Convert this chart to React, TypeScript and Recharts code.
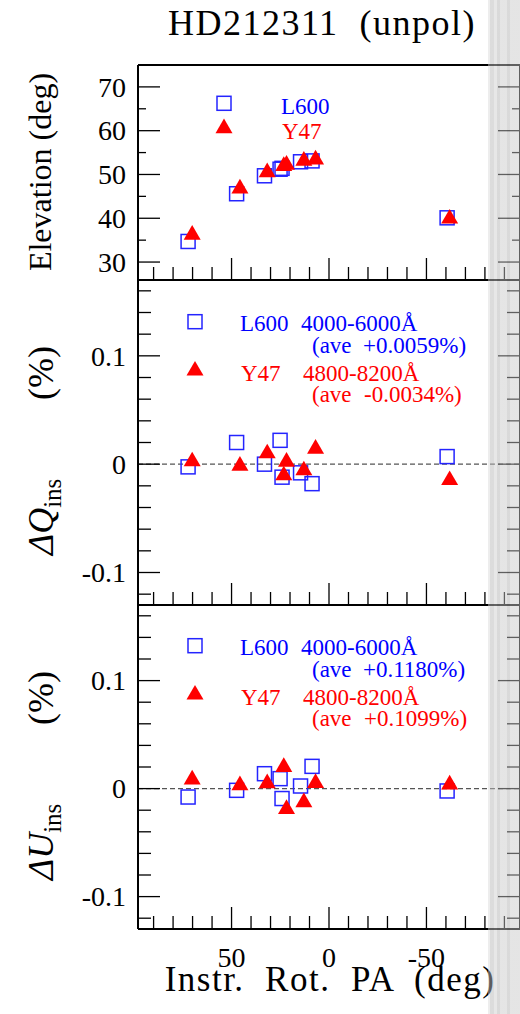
import React from "react";
import { ReferenceLine, Scatter, ScatterChart, XAxis, YAxis } from "recharts";

// HD212311 (unpol): elevation and instrumental dQ / dU against instrument rotator PA.
// Three stacked panels sharing the (reversed) PA axis; ticks point inward on all sides.

const PA_L600 = [72.3, 47.4, 33.1, 25.1, 24.1, 14.6, 8.7, -60.6];
const PA_Y47 = [70.2, 45.7, 31.7, 23.2, 21.8, 12.9, 6.9, -61.9];

const EL_L600 = [34.7, 45.6, 49.7, 51.2, 51.4, 52.9, 53.1, 40.1];
const EL_Y47 = [36.2, 46.8, 50.5, 51.9, 52.2, 53.1, 53.4, 39.9];

const DQ_L600 = [-0.0025, 0.02, 0.0, 0.022, -0.012, -0.008, -0.018, 0.007];
const DQ_Y47 = [0.0025, -0.0015, 0.0099, -0.0104, 0.0021, -0.0058, 0.0141, -0.0148];

const DU_L600 = [-0.0078, -0.0016, 0.0138, 0.0092, -0.0092, 0.0024, 0.0206, -0.0022];
const DU_Y47 = [0.0083, 0.003, 0.0049, 0.02, -0.019, -0.0127, 0.0052, 0.0037];

const X_TICKS = [-90, -80, -70, -60, -50, -40, -30, -20, -10, 0, 10, 20, 30, 40, 50, 60, 70, 80, 90];
const X_MAJOR = [-50, 0, 50];
const EL_TICKS = [30, 35, 40, 45, 50, 55, 60, 65, 70];
const EL_MAJOR = [30, 40, 50, 60, 70];
const D_TICKS = [-0.12, -0.1, -0.08, -0.06, -0.04, -0.02, 0, 0.02, 0.04, 0.06, 0.08, 0.1, 0.12, 0.14, 0.16];
const D_MAJOR = [-0.1, 0, 0.1];

const X_DOMAIN: [number, number] = [-98, 98];
const EL_DOMAIN: [number, number] = [25.9, 75];
const D_DOMAIN: [number, number] = [-0.13, 0.17];

const SERIF = "'Liberation Serif', 'DejaVu Serif', serif";
const BLUE = "#0000ff";
const RED = "#ff0000";

const pts = (xs: number[], ys: number[]) => xs.map((x, i) => ({ x, y: ys[i] }));

function SquareMark({ cx, cy }: any) {
  if (cx == null || cy == null) return null;
  return <rect x={cx - 7} y={cy - 7} width={14} height={14} fill="none" stroke="#2424ff" strokeWidth={1.5} />;
}

function TriMark({ cx, cy }: any) {
  if (cx == null || cy == null) return null;
  const h = 14.7;
  return (
    <polygon
      points={`${cx},${cy - (2 * h) / 3} ${cx - 8.5},${cy + h / 3} ${cx + 8.5},${cy + h / 3}`}
      fill={RED}
    />
  );
}

const isMajor = (majors: number[], v: number) => majors.some((m) => Math.abs(m - v) < 1e-9);
const fmt = (v: number) => (Math.abs(v) < 1e-9 ? "0" : String(Math.round(v * 100) / 100));

type Side = "top" | "bottom" | "left" | "right";

// tickSize/tickMargin are 0, so x/y arrive on the frame line; the mark is drawn inward from there
function makeTick(side: Side, majors: number[], majorLen: number, minorLen: number, label: boolean) {
  return (p: any) => {
    const { x, y } = p;
    const v = p.payload.value;
    const maj = isMajor(majors, v);
    const len = maj ? majorLen : minorLen;
    let x2 = x;
    let y2 = y;
    if (side === "bottom") y2 = y - len;
    if (side === "top") y2 = y + len;
    if (side === "left") x2 = x + len;
    if (side === "right") x2 = x - len;
    return (
      <g>
        <line x1={x} y1={y} x2={x2} y2={y2} stroke="#000" strokeWidth={1.3} />
        {label && maj && side === "left" && (
          <text x={x - 12} y={y} dy="0.35em" textAnchor="end" fontFamily={SERIF} fontSize={28} fill="#000">
            {fmt(v)}
          </text>
        )}
        {label && maj && side === "bottom" && (
          <text x={x} y={y + 38} textAnchor="middle" fontFamily={SERIF} fontSize={28} fill="#000">
            {fmt(v)}
          </text>
        )}
      </g>
    );
  };
}

const FRAME = { stroke: "#000", strokeWidth: 2 };

type PanelProps = {
  top: number;
  height: number;
  mTop: number;
  mBottom: number;
  yDomain: [number, number];
  yTicks: number[];
  yMajor: number[];
  yMinorLen: number;
  l600: { x: number; y: number }[];
  y47: { x: number; y: number }[];
  zero: boolean;
  xLabels: boolean;
};

// axes get a 1px band (a 0px one is not drawn), so the margins are 1px smaller than the frame offsets
function Panel(props: PanelProps) {
  const { top, height, mTop, mBottom, yDomain, yTicks, yMajor, yMinorLen, l600, y47, zero, xLabels } = props;
  const common = { type: "number" as const, allowDataOverflow: true, interval: 0 as const, tickLine: false, tickSize: 0, tickMargin: 0, axisLine: FRAME };
  return (
    <div style={{ position: "absolute", left: 0, top, width: 520, height }}>
      <ScatterChart width={521} height={height} margin={{ top: mTop - 1, right: 0, bottom: mBottom - 1, left: 137 }}>
        <XAxis {...common} xAxisId="b" dataKey="x" orientation="bottom" height={1} domain={X_DOMAIN} reversed ticks={X_TICKS} tick={makeTick("bottom", X_MAJOR, 22, 13, xLabels)} />
        <XAxis {...common} xAxisId="t" orientation="top" height={1} domain={X_DOMAIN} reversed ticks={X_TICKS} tick={makeTick("top", X_MAJOR, 22, 13, false)} />
        <YAxis {...common} yAxisId="l" dataKey="y" orientation="left" width={1} domain={yDomain} ticks={yTicks} tick={makeTick("left", yMajor, 22, yMinorLen, true)} />
        <YAxis {...common} yAxisId="r" orientation="right" width={1} domain={yDomain} ticks={yTicks} tick={makeTick("right", yMajor, 22, yMinorLen, false)} />
        {zero && <ReferenceLine xAxisId="b" yAxisId="l" y={0} stroke="#555" strokeWidth={1.2} strokeDasharray="5 3" />}
        <Scatter xAxisId="b" yAxisId="l" data={l600} shape={SquareMark} isAnimationActive={false} />
        <Scatter xAxisId="b" yAxisId="l" data={y47} shape={TriMark} isAnimationActive={false} />
      </ScatterChart>
    </div>
  );
}

function Sq({ x, y }: { x: number; y: number }) {
  return <rect x={x - 7} y={y - 7} width={14} height={14} fill="none" stroke="#2424ff" strokeWidth={1.5} />;
}
function Tri({ x, y }: { x: number; y: number }) {
  const h = 14.7;
  return <polygon points={`${x},${y - (2 * h) / 3} ${x - 8.5},${y + h / 3} ${x + 8.5},${y + h / 3}`} fill={RED} />;
}

function Legend2({ y0, l600Ave, y47Ave }: { y0: number; l600Ave: string; y47Ave: string }) {
  return (
    <g fontFamily={SERIF} fontSize={23}>
      <Sq x={195} y={y0} />
      <text x={240} y={y0 + 9.5} fill={BLUE}>L600</text>
      <text x={301} y={y0 + 9.5} fill={BLUE}>4000-6000Å</text>
      <text x={312} y={y0 + 31} fill={BLUE}>(ave</text>
      <text x={363} y={y0 + 31} fill={BLUE}>{l600Ave}</text>
      <Tri x={195} y={y0 + 49} />
      <text x={241} y={y0 + 59} fill={RED}>Y47</text>
      <text x={303} y={y0 + 59} fill={RED}>4800-8200Å</text>
      <text x={312} y={y0 + 80.5} fill={RED}>(ave</text>
      <text x={364} y={y0 + 80.5} fill={RED}>{y47Ave}</text>
    </g>
  );
}

function DeltaLabel({ y, letter }: { y: number; letter: string }) {
  // rotated text reads bottom-up; it starts at the bottom end y
  return (
    <text transform={`translate(53,${y}) rotate(-90)`} fontFamily={SERIF} fontSize={36} fill="#000">
      <tspan fontStyle="italic">Δ{letter}</tspan>
      <tspan fontSize={25} dy={8}>ins</tspan>
      <tspan x={155} dy={-8}>(%)</tspan>
    </text>
  );
}

export default function App() {
  return (
    <div style={{ position: "absolute", left: 0, top: 0, width: 520, height: 1014, background: "#fff", overflow: "hidden" }}>
      <Panel top={0} height={300} mTop={65} mBottom={20} yDomain={EL_DOMAIN} yTicks={EL_TICKS} yMajor={EL_MAJOR} yMinorLen={8}
        l600={pts(PA_L600, EL_L600)} y47={pts(PA_Y47, EL_Y47)} zero={false} xLabels={false} />
      <Panel top={270} height={345} mTop={10} mBottom={10} yDomain={D_DOMAIN} yTicks={D_TICKS} yMajor={D_MAJOR} yMinorLen={13}
        l600={pts(PA_L600, DQ_L600)} y47={pts(PA_Y47, DQ_Y47)} zero xLabels={false} />
      <Panel top={595} height={419} mTop={10} mBottom={85} yDomain={D_DOMAIN} yTicks={D_TICKS} yMajor={D_MAJOR} yMinorLen={13}
        l600={pts(PA_L600, DU_L600)} y47={pts(PA_Y47, DU_Y47)} zero xLabels />

      <svg width={520} height={1014} style={{ position: "absolute", left: 0, top: 0, pointerEvents: "none" }}>
        <text x={322} y={35} textAnchor="middle" fontFamily={SERIF} fontSize={36} letterSpacing={1.5} fill="#000" style={{ whiteSpace: "pre" }}>
          HD212311  (unpol)
        </text>
        <text x={330} y={991} textAnchor="middle" fontFamily={SERIF} fontSize={35} letterSpacing={1.5} fill="#000" style={{ whiteSpace: "pre" }}>
          Instr.  Rot.  PA  (deg)
        </text>
        <text transform="translate(51,172) rotate(-90)" textAnchor="middle" fontFamily={SERIF} fontSize={32} fill="#000">
          Elevation (deg)
        </text>
        <DeltaLabel y={555} letter="Q" />
        <DeltaLabel y={880} letter="U" />

        <g fontFamily={SERIF} fontSize={23}>
          <Sq x={224} y={103.3} />
          <Tri x={224} y={128.3} />
          <text x={281} y={114} fill={BLUE}>L600</text>
          <text x={282} y={139} fill={RED}>Y47</text>
        </g>
        <Legend2 y0={321.7} l600Ave="+0.0059%)" y47Ave="-0.0034%)" />
        <Legend2 y0={645.7} l600Ave="+0.1180%)" y47Ave="+0.1099%)" />
      </svg>

      <div
        style={{
          position: "absolute",
          left: 488,
          top: 0,
          width: 32,
          height: 1014,
          background:
            "linear-gradient(90deg, rgba(215,215,215,0.45) 0px, rgba(215,215,215,0.45) 2px, rgba(185,185,185,0.5) 2px, rgba(185,185,185,0.5) 6px, rgba(205,205,205,0.48) 6px, rgba(205,205,205,0.48) 9px, rgba(180,180,180,0.5) 9px, rgba(180,180,180,0.5) 12px, rgba(200,200,200,0.48) 12px, rgba(200,200,200,0.48) 19px, rgba(180,180,180,0.5) 19px, rgba(180,180,180,0.5) 22px, rgba(200,200,200,0.48) 22px)",
        }}
      />
    </div>
  );
}
